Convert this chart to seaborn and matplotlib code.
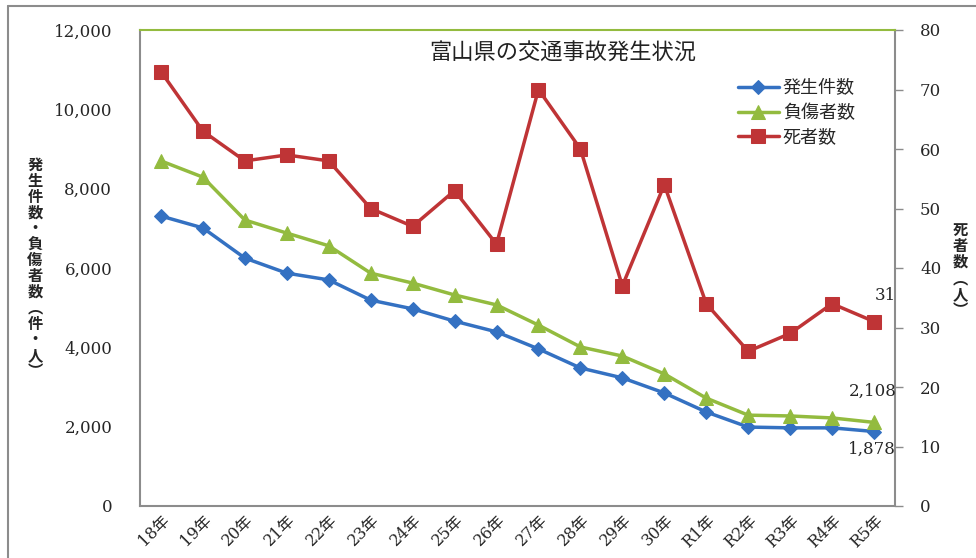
import matplotlib
matplotlib.use("Agg")
import matplotlib.pyplot as plt
from matplotlib.lines import Line2D
import seaborn as sns
import numpy as np
import pandas as pd

# data
years = ["18年", "19年", "20年", "21年", "22年", "23年", "24年", "25年", "26年",
         "27年", "28年", "29年", "30年", "R1年", "R2年", "R3年", "R4年", "R5年"]
accidents = [7310, 7010, 6250, 5870, 5700, 5190, 4970, 4660, 4390,
             3960, 3480, 3230, 2850, 2370, 1990, 1970, 1970, 1878]
injured = [8700, 8290, 7210, 6880, 6560, 5870, 5620, 5320, 5070,
           4560, 4010, 3780, 3330, 2720, 2290, 2270, 2220, 2108]
deaths = [73, 63, 58, 59, 58, 50, 47, 53, 44, 70, 60, 37, 54, 34, 26, 29, 34, 31]

blue = "#3471c2"
green = "#93bb3f"
red = "#bf3436"
grey = "#8c8c8c"

sns.set_theme(style="white")
plt.rcParams['font.family'] = ['Noto Sans CJK JP', 'DejaVu Sans']

df = pd.DataFrame({"x": np.arange(len(years)), "accidents": accidents,
                   "injured": injured, "deaths": deaths})

fig = plt.figure(figsize=(9.76, 5.58), dpi=100)
ax = fig.add_axes([140 / 976, 1 - 506 / 558, (895 - 140) / 976, 476 / 558])
ax2 = ax.twinx()

sns.lineplot(data=df, x="x", y="accidents", ax=ax, color=blue, lw=2.5,
             marker="D", markersize=7, markeredgecolor=blue, label="発生件数")
sns.lineplot(data=df, x="x", y="injured", ax=ax, color=green, lw=2.5,
             marker="^", markersize=10, markeredgecolor=green, label="負傷者数")
sns.lineplot(data=df, x="x", y="deaths", ax=ax2, color=red, lw=2.5,
             marker="s", markersize=10, markeredgecolor=red, label="死者数")

ax.set_xlim(-0.5, len(years) - 0.5)
ax.set_ylim(0, 12000)
ax2.set_ylim(0, 80)
ax.set_xlabel("")
ax.set_ylabel("")
ax2.set_ylabel("")

serif = "DejaVu Serif"
ax.set_yticks(np.arange(0, 12001, 2000))
ax.set_yticklabels([f"{v:,}" for v in range(0, 12001, 2000)], family=serif, fontsize=12)
ax.tick_params(axis="y", length=0, pad=20)
ax2.set_yticks(np.arange(0, 81, 10))
ax2.set_yticklabels([str(v) for v in range(0, 81, 10)], family=serif, fontsize=12)
ax2.tick_params(axis="y", length=6, width=1, color=grey, direction="out", pad=12)

ax.set_xticks(np.arange(len(years)))
ax.set_xticklabels(years, rotation=45, ha="right", rotation_mode="anchor",
                   family=[serif, 'Noto Sans CJK JP'], fontsize=11.5)
ax.set_xticks(np.arange(-0.5, len(years)), minor=True)
ax.tick_params(axis="x", which="major", length=0, pad=4)
ax.tick_params(axis="x", which="minor", length=6, width=1, color=grey, direction="out")

# spines: grey frame, green top line; avoid duplicated spines of the twin axes
for side in ("left", "bottom"):
    ax.spines[side].set_color(grey)
    ax.spines[side].set_linewidth(1.5)
ax.spines["right"].set_visible(False)
ax.spines["top"].set_color(green)
ax.spines["top"].set_linewidth(1.5)
for side in ("left", "bottom", "top"):
    ax2.spines[side].set_visible(False)
ax2.spines["right"].set_color(grey)
ax2.spines["right"].set_linewidth(1.5)
ax.set_zorder(ax2.get_zorder() + 1)
ax.patch.set_visible(False)

# legend (collect handles from both axes)
h1, l1 = ax.get_legend_handles_labels()
h2, l2 = ax2.get_legend_handles_labels()
if ax2.get_legend():
    ax2.get_legend().remove()
ax.legend(h1 + h2, l1 + l2, loc="upper left", bbox_to_anchor=(0.77, 0.93),
          frameon=False, fontsize=13, handlelength=2.3, handletextpad=0.2,
          labelspacing=0.35)

ax.text(0.56, 0.975, "富山県の交通事故発生状況", transform=ax.transAxes,
        ha="center", va="top", fontsize=16, color="#222222")

# value labels
ax2.annotate(f"{deaths[-1]}", (len(years) - 1, deaths[-1]), xytext=(8, 19),
             textcoords="offset points", ha="center", va="center",
             family=serif, fontsize=12)
ax.annotate(f"{injured[-1]:,}", (len(years) - 1, injured[-1]), xytext=(16, 22),
            textcoords="offset points", ha="right", va="center",
            family=serif, fontsize=12)
ax.annotate(f"{accidents[-1]:,}", (len(years) - 1, accidents[-1]), xytext=(16, -13),
            textcoords="offset points", ha="right", va="center",
            family=serif, fontsize=12)

# vertical axis titles
fig.text(35 / 976, 1 - 268 / 558, "\n".join("発生件数・負傷者数︵件・人︶"),
         ha="center", va="center", fontsize=11, linespacing=0.99, fontweight="bold")
fig.text(960 / 976, 1 - 270 / 558, "\n".join("死者数︵人︶"),
         ha="center", va="center", fontsize=11, linespacing=0.99, fontweight="bold")

# outer frame of the original picture
fig.add_artist(Line2D([8 / 976, 1], [1 - 6 / 558] * 2, color=grey, lw=1.5))
fig.add_artist(Line2D([8 / 976] * 2, [0, 1 - 6 / 558], color=grey, lw=1.5))

fig.savefig("out.png", dpi=100)
